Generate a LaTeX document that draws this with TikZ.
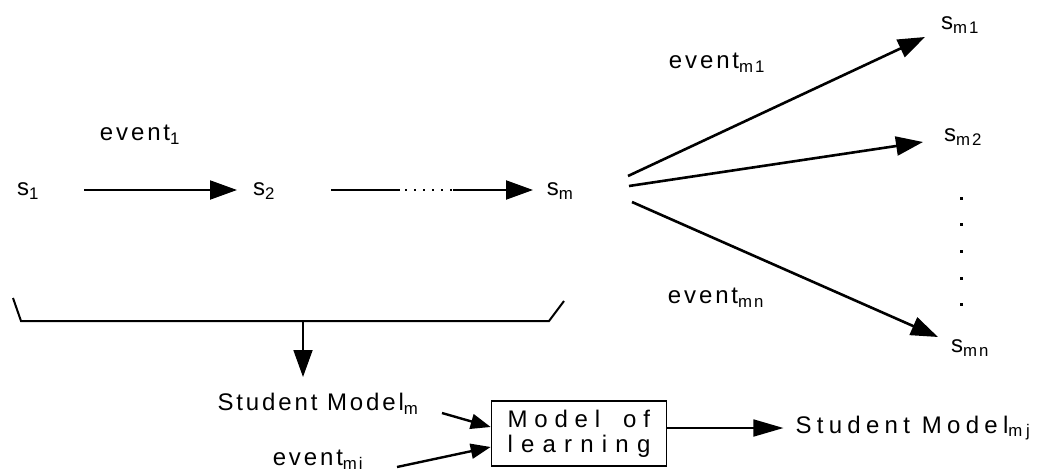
\documentclass[tikz,border=0pt]{standalone}
\usepackage{fontspec}
\setmainfont{Liberation Sans}
\newfontfamily\fA[LetterSpace=12]{Liberation Sans}
\newfontfamily\fB[LetterSpace=22]{Liberation Sans}
\usetikzlibrary{arrows.meta}
\newcommand{\sbs}[1]{\textsubscript{#1}}
\newcommand{\ga}{\hspace{6.8pt}}
\newcommand{\gb}{\hspace{8.2pt}}
\begin{document}
\begin{tikzpicture}[x=1pt,y=-1pt,
  lbl/.style={inner sep=0pt, font=\fontsize{24}{28}\selectfont\fA},
  big/.style={inner sep=0pt, font=\fontsize{24}{28}\selectfont\fB},
  ln/.style={line width=2pt},
  arr/.style={line width=2pt, -{Triangle[length=27pt,width=19pt]}},
  farr/.style={line width=2.6pt, -{Triangle[length=27pt,width=19pt]}},
  sarr/.style={line width=2.4pt, -{Triangle[length=20pt,width=15pt]}},
  boxst/.style={draw, line width=1.6pt, minimum width=175pt, minimum height=65pt, inner sep=0pt, align=left, font=\fontsize{24}{25}\selectfont}
]
\useasboundingbox (0,0) rectangle (1040,474);
% top chain
\node[lbl] (s1) at (28,191) {s\sbs{1}};
\node[lbl] (s2) at (264,191) {s\sbs{2}};
\node[lbl] (sm) at (560,191) {s\sbs{m}};
\node[lbl] (ev1) at (140,135) {event\sbs{1}};
\coordinate (a1) at (84,190);
\coordinate (a2) at (237,190);
\draw[arr] (a1) -- (a2);
\coordinate (b1) at (331,190);
\coordinate (b2) at (400,190);
\coordinate (b3) at (453,190);
\coordinate (b4) at (533,190);
\draw[ln] (b1) -- (b2);
\draw[line width=1.6pt, dash pattern=on 2pt off 7pt] (b2) ++(5,0) -- (b3);
\draw[arr] (b3) -- (b4);
% fan
\node[lbl] (sm1) at (960,25) {s\sbs{m1}};
\node[lbl] (sm2) at (963,137) {s\sbs{m2}};
\node[lbl] (smn) at (970,348) {s\sbs{mn}};
\node[lbl] (evm1) at (717,63) {event\sbs{m1}};
\node[lbl] (evmn) at (716,298) {event\sbs{mn}};
\coordinate (f1) at (628,176);
\coordinate (f2) at (629,186);
\coordinate (f3) at (632,202);
\coordinate (t1) at (925,37);
\coordinate (t2) at (923,142);
\coordinate (t3) at (938,337);
\draw[farr] (f1) -- (t1);
\draw[farr] (f2) -- (t2);
\draw[farr] (f3) -- (t3);
\foreach \yy in {197,223,250,277,303} \fill (960,\yy) rectangle (962.5,\yy+2.5);
% bracket
\coordinate (k1) at (13,298);
\coordinate (k2) at (21,321);
\coordinate (k3) at (549,321);
\coordinate (k4) at (564,301);
\coordinate (k5) at (303,321);
\coordinate (k6) at (303,377);
\draw[ln, line join=miter] (k1) -- (k2) -- (k3) -- (k4);
\draw[arr, line width=1.8pt] (k5) -- (k6);
% bottom
\node[lbl] (smm) at (318,404) {Student Model\sbs{m}};
\node[lbl] (evmi) at (318,460) {event\sbs{mi}};
\node[boxst] (box) at (579,433.5) {M\ga o\ga d\ga e\ga l\hspace{23pt}o\ga f\\l\gb e\gb a\gb r\gb n\gb i\gb n\gb g};
\node[big] (smmj) at (913,428) {Student Model\sbs{mj}};
\coordinate (i1) at (442,413);
\coordinate (i2) at (397,467);
\draw[sarr] (i1) -- (box.west |- 0,427);
\draw[sarr] (i2) -- (box.west |- 0,447);
\draw[arr, line width=1.8pt, -{Triangle[length=30pt,width=17pt]}] (box.east |- 0,428) -- ([xshift=-12pt]smmj.west);
\end{tikzpicture}
\end{document}
